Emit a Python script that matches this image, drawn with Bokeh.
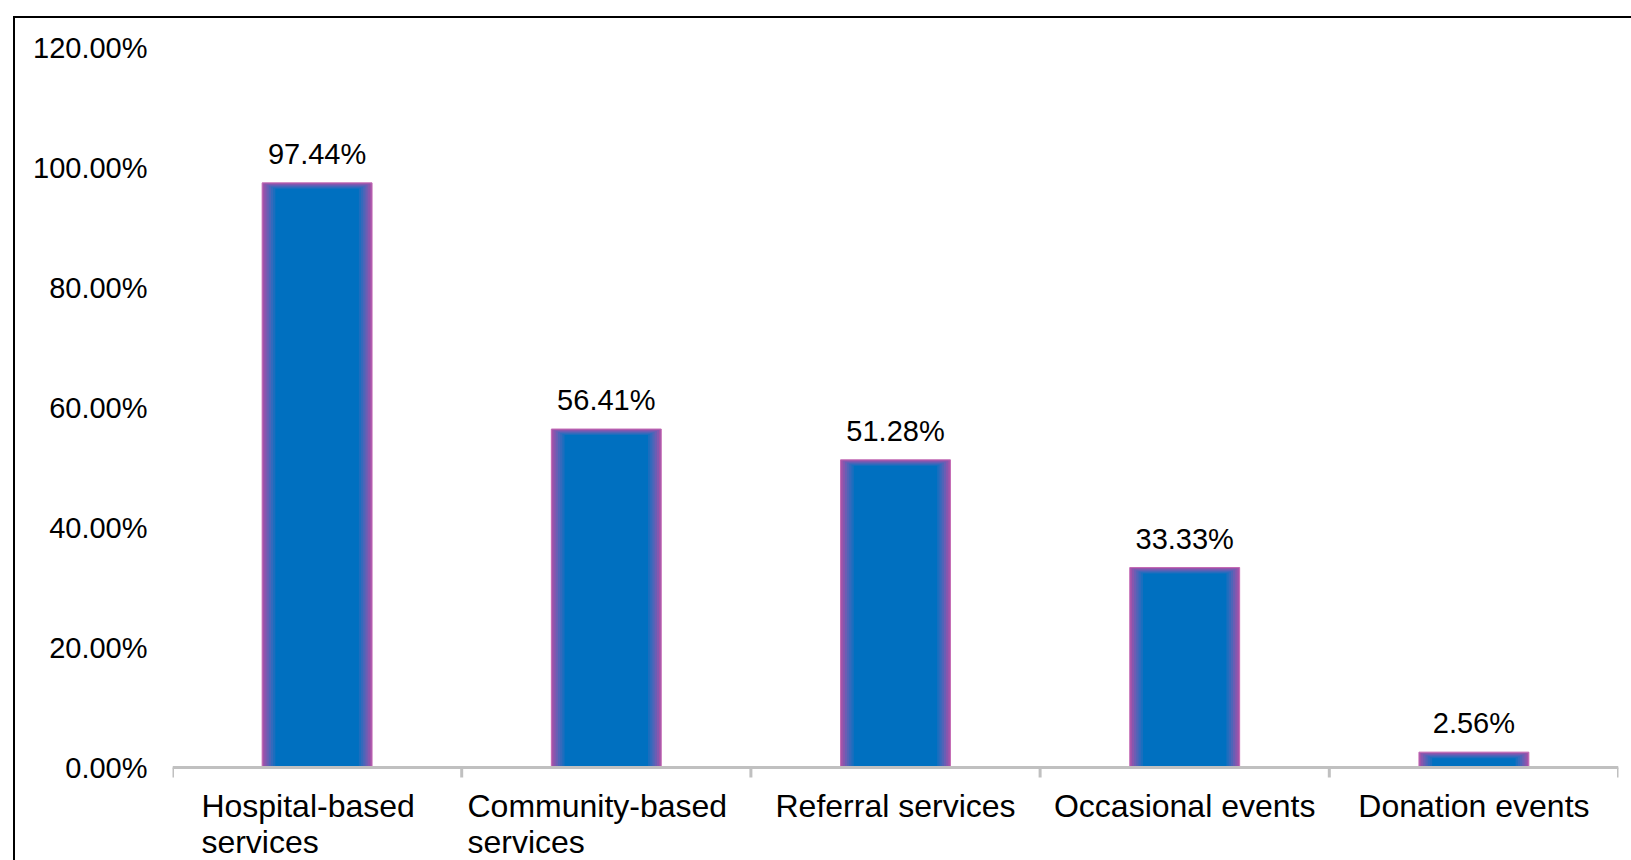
from bokeh.plotting import figure
from bokeh.models import FixedTicker, PrintfTickFormatter, Range1d
from bokeh.embed import file_html
from bokeh.resources import INLINE
from bokeh.core.properties import value

categories = ["Hospital-based\nservices", "Community-based\nservices",
              "Referral services", "Occasional events", "Donation events"]
values = [97.44, 56.41, 51.28, 33.33, 2.56]
y_ticks = [0, 20, 40, 60, 80, 100, 120]

FONT = "Liberation Sans"
FS_NUM = 29
FS_CAT = 32

# approximate Arial/Liberation Sans advance widths (per 1000 em)
CHAR_W = {"H": 722, "o": 556, "s": 500, "p": 556, "i": 222, "t": 278, "a": 556,
          "l": 222, "-": 333, "b": 556, "e": 556, "d": 556, "C": 722, "m": 833,
          "u": 556, "n": 556, "y": 500, "r": 333, "v": 500, "c": 500, "R": 722,
          "f": 278, "O": 778, "D": 722, " ": 278}


def text_w(s, size):
    return sum(CHAR_W.get(ch, 556) for ch in s) / 1000.0 * size


n = len(categories)
xs = [i + 0.5 for i in range(n)]
labels = [f"{v:.2f}%" for v in values]

# layout (pixels)
W, H = 1631, 860
MB_L, MB_R, MB_T = 172, 13, 47
FW = W - MB_L - MB_R              # frame width
FH_TOTAL = H - MB_T               # frame height (extends below the zero line)
FH = 720.0                        # height that spans 0 .. 120
px_x = n / FW
px_y = 120.0 / FH
y_lo = -(FH_TOTAL - FH) * px_y

p = figure(width=W, height=H, output_backend="svg", toolbar_location=None,
           x_range=Range1d(0, n), y_range=Range1d(y_lo, 120),
           min_border_left=MB_L, min_border_right=MB_R, min_border_top=MB_T,
           min_border_bottom=0)
# chart-area frame line (top and left), drawn as CSS background behind a transparent canvas
p.styles = {
    "background-color": "white",
    "background-image": "linear-gradient(#000, #000), linear-gradient(#000, #000)",
    "background-repeat": "no-repeat",
    "background-position": "13px 16px, 13px 16px",
    "background-size": "2px 100%, 100% 2px",
}
p.border_fill_alpha = 0
p.background_fill_alpha = 0
p.outline_line_color = None
p.xgrid.grid_line_color = None
p.ygrid.grid_line_color = None
p.xaxis.visible = False

# bars with a soft purple edge (layered to imitate the gradient)
edge_colors = ["#A253A9", "#8657AE", "#6A5EB4", "#4E65B8", "#346ABC", "#1C6EBE", "#0070C0"]
for k, c in enumerate(edge_colors):
    tops = [max(v - 1.0 * k * px_y, 0) for v in values]
    p.vbar(x=xs, top=tops, bottom=0, width=0.38 - 2 * 2.2 * k * px_x,
           fill_color=c, line_color=("#C46AB4" if k == 0 else None),
           line_width=1)

p.text(x=xs, y=values, text=labels, text_align="center",
       text_baseline="alphabetic", y_offset=-29,
       text_font=value(FONT), text_font_size=f"{FS_NUM}px", text_color="black")

# category axis line and boundary ticks
bounds = list(range(n + 1))
p.segment(x0=[0], y0=[0], x1=[n], y1=[0], line_color="#C0C0C0", line_width=3)
p.segment(x0=bounds, y0=[0] * len(bounds), x1=bounds,
          y1=[-10 * px_y] * len(bounds), line_color="#C0C0C0", line_width=3)

# category labels
c_x, c_t = [], []
l_x, l_t, l_off, l_yoff = [], [], [], []
for xc, cat in zip(xs, categories):
    lines = cat.split("\n")
    if len(lines) == 1:
        c_x.append(xc)
        c_t.append(cat)
    else:
        w = max(text_w(l, FS_CAT) for l in lines)
        for i, l in enumerate(lines):
            l_x.append(xc)
            l_t.append(l)
            l_off.append(-w / 2 - 9)
            l_yoff.append(38 + 36 * i)

p.text(x=c_x, y=[0] * len(c_x), text=c_t, text_align="center",
       text_baseline="alphabetic", y_offset=38,
       text_font=value(FONT), text_font_size=f"{FS_CAT}px", text_color="black")
p.text(x=l_x, y=[0] * len(l_x), text=l_t, text_align="left",
       text_baseline="alphabetic", x_offset=l_off, y_offset=l_yoff,
       text_font=value(FONT), text_font_size=f"{FS_CAT}px", text_color="black")

# y axis
ya = p.yaxis[0]
ya.ticker = FixedTicker(ticks=y_ticks)
ya.formatter = PrintfTickFormatter(format="%.2f%%")
ya.axis_line_color = None
ya.major_tick_line_color = None
ya.minor_tick_line_color = None
ya.major_tick_out = 0
ya.major_tick_in = 0
ya.major_label_standoff = 25
ya.major_label_text_font = FONT
ya.major_label_text_font_size = f"{FS_NUM}px"
ya.major_label_text_color = "black"

open("out.html", "w").write(file_html(p, INLINE))
